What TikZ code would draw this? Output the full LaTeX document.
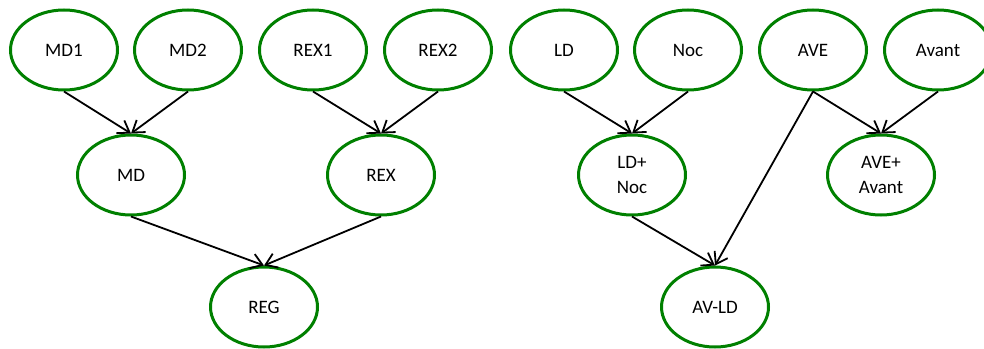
\documentclass[tikz,border=0pt]{standalone}
\usepackage{fontspec}
\setmainfont{Carlito}
\usetikzlibrary{arrows.meta,shapes.geometric}
\definecolor{nodegreen}{RGB}{0,128,0}
\begin{document}
\begin{tikzpicture}[x=1pt,y=-1pt,
  state/.style={ellipse,draw=nodegreen,line width=3pt,minimum width=107pt,minimum height=80pt,inner sep=0pt,align=center,font=\fontsize{19}{25}\selectfont},
  link/.style={line width=1.8pt,-{Straight Barb[length=11pt,width=15pt,line width=1.8pt]}}]
\useasboundingbox (0,0) rectangle (984,348);
\node[state] (md1) at (64,50) {MD1};
\node[state] (md2) at (188,50) {MD2};
\node[state] (rex1) at (313,50) {REX1};
\node[state] (rex2) at (438,50) {REX2};
\node[state] (ld) at (564,50) {LD};
\node[state] (noc) at (688,50) {Noc};
\node[state] (ave) at (813,50) {AVE};
\node[state] (avant) at (938,50) {Avant};
\node[state] (md) at (131,175) {MD};
\node[state] (rex) at (381,175) {REX};
\node[state] (ldnoc) at (632,175) {LD+\\Noc};
\node[state] (aveavant) at (881,175) {AVE+\\Avant};
\node[state] (reg) at (264,307) {REG};
\node[state] (avld) at (715,307) {AV-LD};
\draw[link] (md1.south) -- (md.north);
\draw[link] (md2.south) -- (md.north);
\draw[link] (rex1.south) -- (rex.north);
\draw[link] (rex2.south) -- (rex.north);
\draw[link] (ld.south) -- (ldnoc.north);
\draw[link] (noc.south) -- (ldnoc.north);
\draw[link] (ave.south) -- (aveavant.north);
\draw[link] (avant.south) -- (aveavant.north);
\draw[link] (ave.south) -- (avld.north);
\draw[link] (ldnoc.south) -- (avld.north);
\draw[link] (md.south) -- (reg.north);
\draw[link] (rex.south) -- (reg.north);
\end{tikzpicture}
\end{document}
